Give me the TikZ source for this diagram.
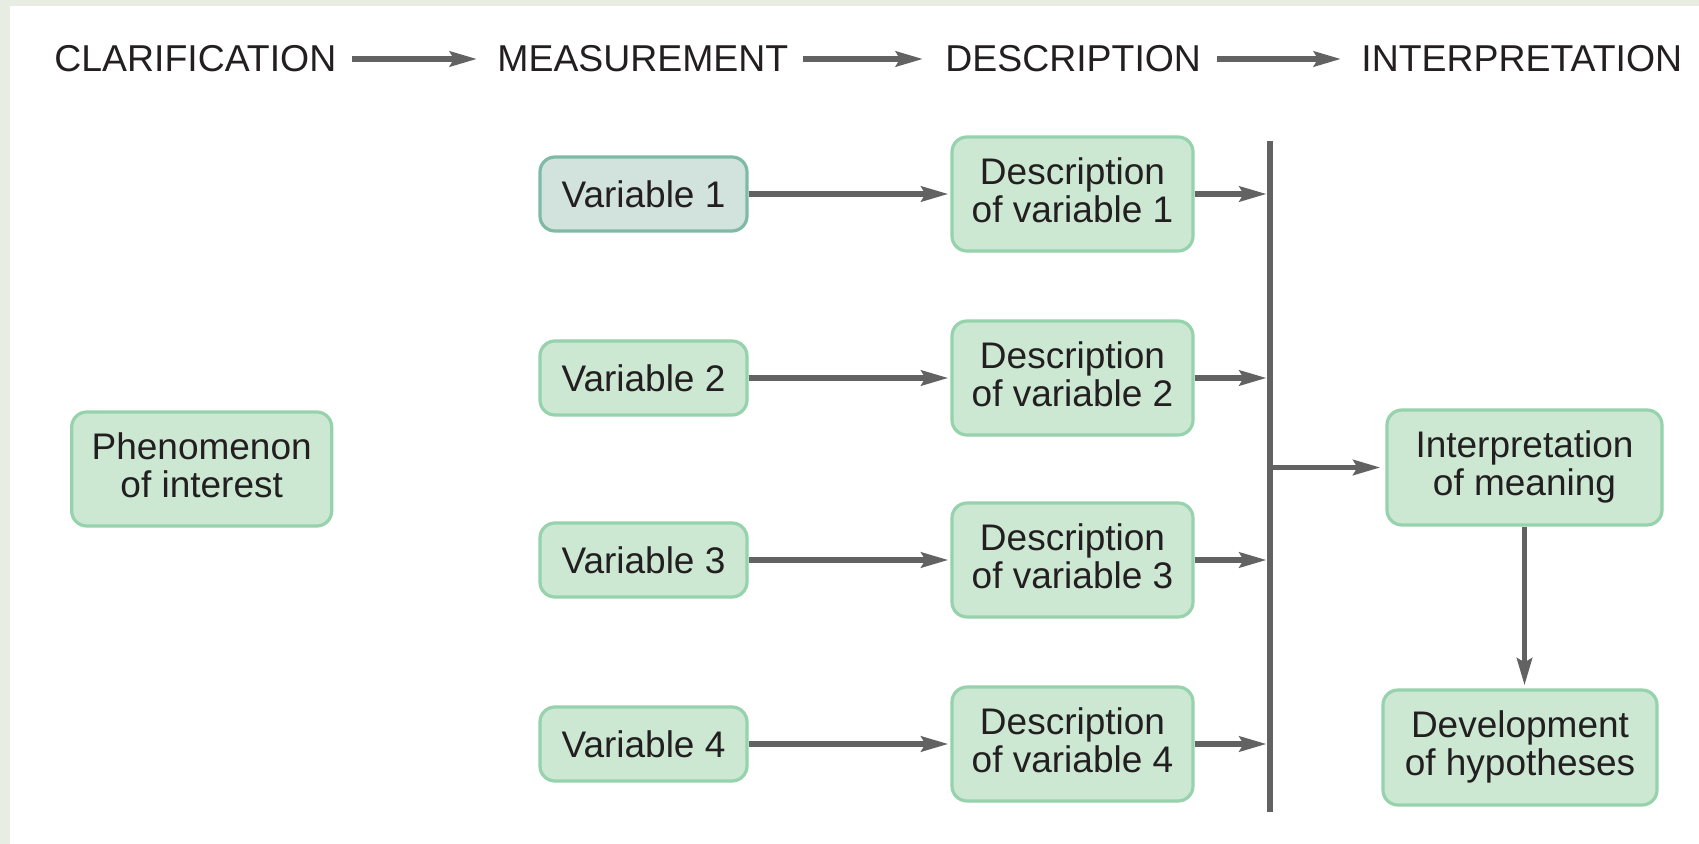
\documentclass[tikz,border=0pt]{standalone}
\usepackage{fontspec}
\setmainfont{Liberation Sans}
\usetikzlibrary{arrows.meta}
\definecolor{framec}{HTML}{E7EDE2}
\definecolor{boxfill}{HTML}{CCE8D3}
\definecolor{boxline}{HTML}{96D2AC}
\definecolor{vonefill}{HTML}{D2E3DD}
\definecolor{voneline}{HTML}{7FBAA5}
\definecolor{txt}{HTML}{231F20}
\definecolor{connc}{HTML}{626262}
\newcommand{\lastdp}{\rule[-4pt]{0pt}{0pt}}
\begin{document}
\begin{tikzpicture}[x=0.5pt,y=-0.5pt,
  box/.style={draw=boxline, fill=boxfill, line width=1.6pt, rounded corners=7.5pt, align=center, text=txt, inner sep=0pt, font=\fontsize{18.5}{19}\selectfont},
  varbox/.style={box, minimum width=103.5pt, minimum height=37pt},
  descbox/.style={box, minimum width=120.5pt, minimum height=57pt},
  hdr/.style={anchor=west, inner sep=0pt, text=txt, font=\fontsize{18.7}{20}\selectfont},
  connector/.style={draw=connc, line width=2.7pt, -{Stealth[length=13.5pt,width=7.5pt,inset=2pt]}},
  barline/.style={draw=connc, line width=3.4pt}
]
\fill[framec] (0,0) rectangle (1699,844);
\fill[white] (10,6) rectangle (1699,844);
\useasboundingbox (0,0) rectangle (1699,844);

% header
\node[hdr] (h1) at (54,59) {CLARIFICATION};
\node[hdr] (h2) at (497,59) {MEASUREMENT};
\node[hdr] (h3) at (945,59) {DESCRIPTION};
\node[hdr] (h4) at (1361,59) {INTERPRETATION};
\draw[connector, shorten <=7.5pt, shorten >=10pt] (h1.east) -- (h2.west);
\draw[connector, shorten <=7pt, shorten >=11pt] (h2.east) -- (h3.west);
\draw[connector, shorten <=8pt, shorten >=10pt] (h3.east) -- (h4.west);

% boxes
\node[box, minimum width=130pt, minimum height=57pt] (phen) at (201.7,469) {Phenomenon\\of interest\lastdp};

\node[varbox, fill=vonefill, draw=voneline] (v1) at (643.5,194) {Variable 1};
\node[varbox] (v2) at (643.5,378) {Variable 2};
\node[varbox] (v3) at (643.5,560) {Variable 3};
\node[varbox] (v4) at (643.5,744) {Variable 4};

\node[descbox] (d1) at (1072.5,194) {Description\\of variable 1\lastdp};
\node[descbox] (d2) at (1072.5,378) {Description\\of variable 2\lastdp};
\node[descbox] (d3) at (1072.5,560) {Description\\of variable 3\lastdp};
\node[descbox] (d4) at (1072.5,744) {Description\\of variable 4\lastdp};

\node[box, minimum width=137.5pt, minimum height=57.5pt] (interp) at (1524.5,467.5) {Interpretation\\of meaning\lastdp};
\node[box, minimum width=137pt, minimum height=57.5pt] (dev) at (1520,747.5) {Development\\of hypotheses\lastdp};

% bar
\coordinate (bt) at (1270,141);
\coordinate (bb) at (1270,812);
\draw[barline] (bt) -- (bb);

% connectors
\foreach \i in {1,...,4} {
  \draw[connector, shorten >=1pt] (v\i.east) -- (d\i.west);
  \draw[connector, shorten >=1.7pt] (d\i.east) -- (d\i.east -| bt);
}
\draw[connector, shorten >=2.5pt] (bt |- interp.west) -- (interp.west);
\draw[connector, shorten >=1.5pt] (interp.south) -- (interp.south |- dev.north);
\end{tikzpicture}
\end{document}
